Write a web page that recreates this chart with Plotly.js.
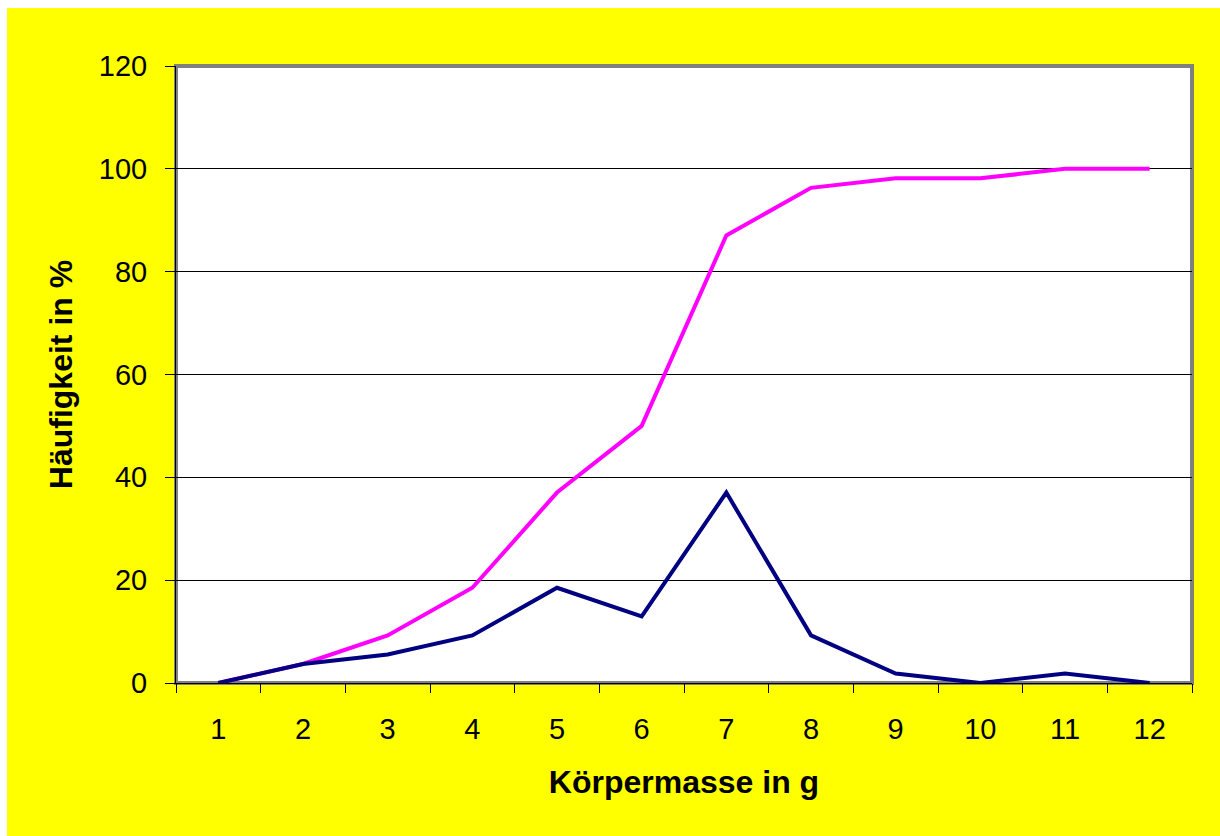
<!DOCTYPE html>
<html>
<head>
<meta charset="utf-8">
<script src="https://cdn.plot.ly/plotly-3.0.1.min.js"></script>
<style>
html, body { margin: 0; padding: 0; background: #ffffff; width: 1220px; height: 836px; overflow: hidden; }
#chart { position: absolute; left: 7px; top: 8px; width: 1213px; height: 828px; }
</style>
</head>
<body>
<div id="chart"></div>
<script>
const massCategories = ["1", "2", "3", "4", "5", "6", "7", "8", "9", "10", "11", "12"];
const frequencyPercent = [0, 3.7, 5.56, 9.26, 18.52, 12.96, 37.04, 9.26, 1.85, 0, 1.85, 0];
const cumulativePercent = [0, 3.7, 9.26, 18.52, 37.04, 50, 87.04, 96.3, 98.15, 98.15, 100, 100];
const yTicks = [0, 20, 40, 60, 80, 100, 120];

const fontFamily = '"Liberation Sans", Arial, sans-serif';

const traces = [
  {
    x: massCategories, y: cumulativePercent, type: 'scatter', mode: 'lines',
    line: { color: '#FF00FF', width: 4 }, name: 'kumulativ', cliponaxis: false
  },
  {
    x: massCategories, y: frequencyPercent, type: 'scatter', mode: 'lines',
    line: { color: '#000080', width: 4 }, name: 'Häufigkeit', cliponaxis: false
  }
];

const layout = {
  width: 1213, height: 828,
  paper_bgcolor: '#FFFF00',
  plot_bgcolor: '#FFFFFF',
  showlegend: false,
  margin: { l: 169, r: 28, t: 58, b: 153, pad: 0 },
  font: { family: fontFamily, color: '#000000', size: 29 },
  xaxis: {
    type: 'category',
    range: [-0.5, 11.5],
    tickson: 'boundaries',
    ticks: 'outside', ticklen: 9, tickwidth: 1, tickcolor: '#000000',
    showline: true, linecolor: '#000000', linewidth: 1,
    showgrid: false, zeroline: false,
    tickfont: { size: 29, family: fontFamily },
    ticklabelstandoff: 20,
    title: { text: 'Körpermasse in g', font: { size: 32, family: fontFamily, weight: 'bold' }, standoff: 26 },
    automargin: false
  },
  yaxis: {
    range: [0, 120],
    tickmode: 'array', tickvals: yTicks, ticktext: yTicks.map(String),
    ticks: 'outside', ticklen: 10, tickwidth: 1, tickcolor: '#000000',
    showline: true, linecolor: '#000000', linewidth: 1,
    showgrid: true, gridcolor: '#000000', gridwidth: 1,
    zeroline: false,
    tickfont: { size: 29, family: fontFamily },
    ticklabelstandoff: 12,
    title: { text: 'Häufigkeit in %', font: { size: 32, family: fontFamily, weight: 'bold' }, standoff: 16 },
    automargin: false
  },
  shapes: [
    {
      type: 'rect', xref: 'paper', yref: 'paper', x0: 0, x1: 1, y0: 0, y1: 1,
      line: { color: '#808080', width: 4 }, fillcolor: 'rgba(0,0,0,0)', layer: 'between'
    }
  ]
};

Plotly.newPlot('chart', traces, layout, { displayModeBar: false, staticPlot: true });
</script>
</body>
</html>
